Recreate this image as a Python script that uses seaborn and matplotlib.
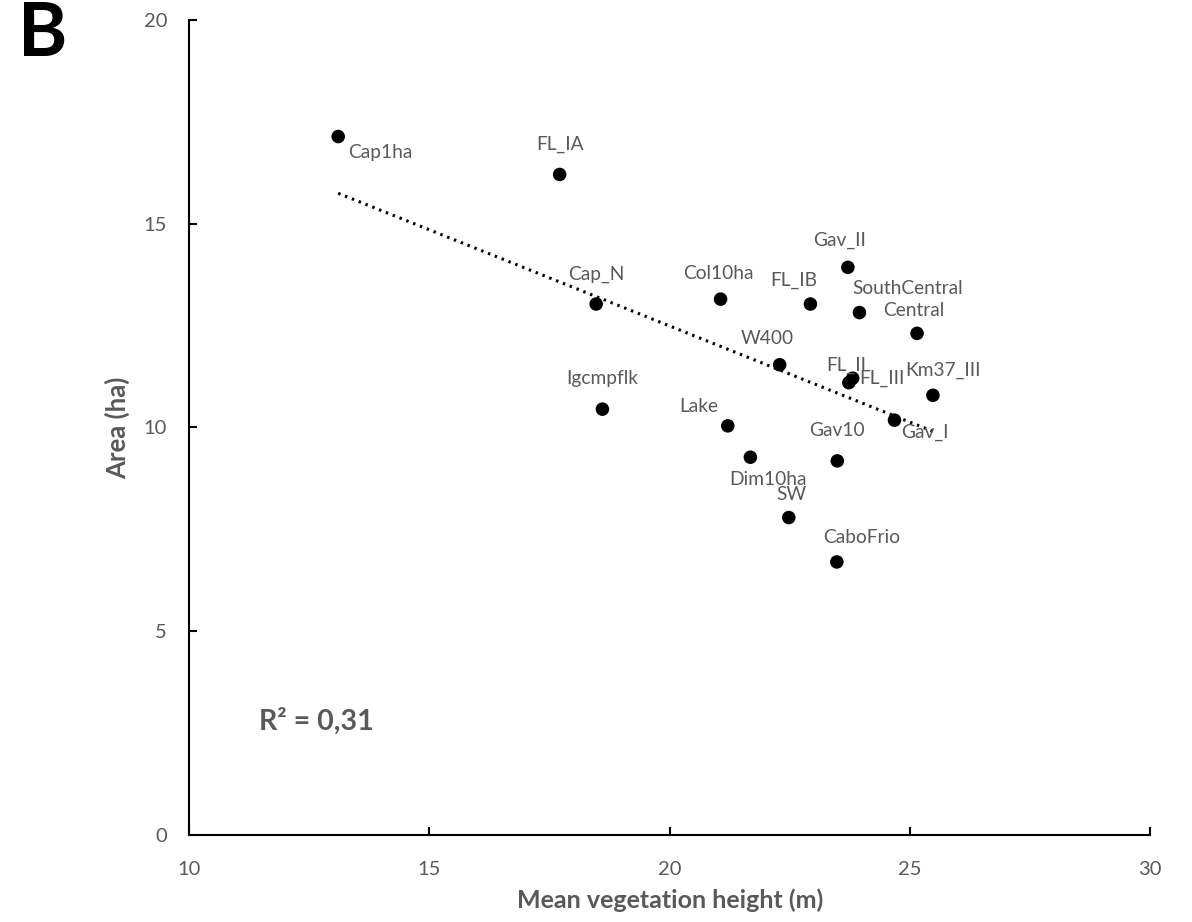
import numpy as np
import pandas as pd
import seaborn as sns
import matplotlib.pyplot as plt

sites = ["Cap1ha", "FL_IA", "Cap_N", "Col10ha", "FL_IB", "Gav_II", "SouthCentral",
         "Central", "W400", "FL_II", "FL_III", "Km37_III", "Gav_I", "Igcmpflk",
         "Lake", "Dim10ha", "Gav10", "SW", "CaboFrio"]
height = [13.10, 17.71, 18.47, 21.06, 22.93, 23.71, 23.95,
          25.15, 22.29, 23.81, 23.73, 25.48, 24.68, 18.60,
          21.21, 21.68, 23.49, 22.48, 23.48]
area = [17.14, 16.21, 13.03, 13.15, 13.03, 13.93, 12.82,
        12.31, 11.54, 11.21, 11.10, 10.79, 10.18, 10.45,
        10.04, 9.27, 9.18, 7.79, 6.70]

# label offsets in pixels (dx, dy), excel-style data labels
offsets = {
    "Cap1ha": (10, -16, "left"), "FL_IA": (0, 30, "center"), "Cap_N": (0, 30, "center"),
    "Col10ha": (-2, 26, "center"), "FL_IB": (-17, 24, "center"), "Gav_II": (-8, 27, "center"),
    "SouthCentral": (-7, 24, "left"), "Central": (-34, 23, "left"), "W400": (-12, 26, "center"),
    "FL_II": (-6, 13, "center"), "FL_III": (33, 4, "center"), "Km37_III": (-28, 25, "left"),
    "Gav_I": (30, -12, "center"), "Igcmpflk": (0, 31, "center"), "Lake": (-29, 19, "center"),
    "Dim10ha": (18, -22, "center"), "Gav10": (0, 30, "center"), "SW": (3, 23, "center"),
    "CaboFrio": (25, 24, "center"),
}

df = pd.DataFrame({"site": sites, "height": height, "area": area})

sns.set_theme(style="white")
plt.rcParams["font.family"] = ["Lato", "DejaVu Sans"]
grey = "#595959"

fig = plt.figure(figsize=(11.92, 9.22), dpi=100)
ax = fig.add_axes([0.1588, 0.0944, 0.806, 0.8839])

sns.regplot(data=df, x="height", y="area", scatter=False, ci=None, ax=ax,
            line_kws=dict(color="black", lw=2.2, linestyle=(0, (0.8, 1.6))))
sns.scatterplot(data=df, x="height", y="area", color="black", s=95,
                edgecolor="none", ax=ax, zorder=3)

for _, r in df.iterrows():
    dx, dy, ha = offsets[r.site]
    ax.annotate(r.site, (r.height, r.area), xytext=(dx * 0.72, dy * 0.72),
                textcoords="offset points", ha=ha, va="center",
                fontsize=13.8, color=grey)

ax.set_xlim(10, 30)
ax.set_ylim(0, 20)
ax.set_xticks([10, 15, 20, 25, 30])
ax.set_yticks([0, 5, 10, 15, 20])
for s in ["top", "right"]:
    ax.spines[s].set_visible(False)
for s in ["left", "bottom"]:
    ax.spines[s].set_color("black")
    ax.spines[s].set_linewidth(1.5)
ax.tick_params(direction="in", length=6, width=1.5, colors="black",
               labelcolor=grey, labelsize=14.5, bottom=True, left=True)
ax.tick_params(axis="x", pad=19)
ax.tick_params(axis="y", pad=16)

ax.set_xlabel("Mean vegetation height (m)", fontsize=18, fontweight="bold",
              color=grey, labelpad=7)
ax.set_ylabel("Area (ha)", fontsize=18.5, fontweight="bold", color=grey, labelpad=10)

ax.text(0.073, 0.14, "R² = 0,31", transform=ax.transAxes, fontsize=20.5,
        fontweight="bold", color=grey, va="center")
fig.text(0.015, 0.963, "B", fontsize=54, fontweight="bold", color="black", va="center")

fig.savefig("out.png", dpi=100)
